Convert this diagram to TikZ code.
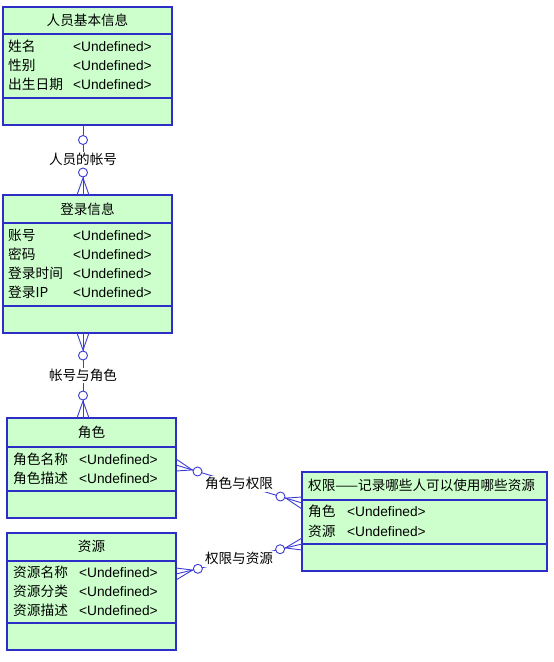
\documentclass[tikz,border=0pt]{standalone}
\usepackage{fontspec}
\setmainfont{Liberation Sans}
\newfontfamily\cjk{Noto Sans CJK SC}
\usetikzlibrary{calc}
\definecolor{efill}{RGB}{204,255,204}
\definecolor{eline}{RGB}{45,45,200}
\definecolor{cline}{RGB}{60,60,210}
\newcommand\erCrow[3]{%
  \draw[conn] ($(#1)+(#3)$) -- ($(#1)!17pt!(#2)$) -- ($(#1)-(#3)$);
  \draw[conn,fill=white] ($(#1)!22.5pt!(#2)$) circle[radius=4.5pt];}
\begin{document}
\begin{tikzpicture}[x=1pt,y=-1pt,
  entity/.style={draw=eline,fill=efill,line width=1.2pt,inner sep=0pt,outer sep=0pt,anchor=north west},
  divider/.style={draw=eline,line width=1.2pt},
  txt/.style={inner sep=0pt,anchor=west,text height=11.5pt,text depth=2pt,font=\fontsize{13.7}{15}\selectfont},
  ttl/.style={inner sep=0pt,text height=11.5pt,text depth=2pt,font=\fontsize{13.6}{15}\selectfont\cjk},
  conn/.style={draw=cline,line width=0.9pt},
  lbl/.style={fill=white,inner sep=1pt,font=\fontsize{13.6}{15}\selectfont\cjk,text height=11.5pt,text depth=2pt}]
\useasboundingbox[fill=white] (0,0) rectangle (554,662);

% ---------- entity 1
\node[entity,minimum width=169pt,minimum height=118pt] (e1) at (3,7) {};
\draw[divider] ($(e1.north west)+(0,27)$) -- ($(e1.north east)+(0,27)$);
\draw[divider] ($(e1.north west)+(0,91)$) -- ($(e1.north east)+(0,91)$);
\node[ttl] (t1) at (87.5,20.5) {人员基本信息};
\node[txt] (n11) at (8,47) {\cjk{姓名}};
\node[txt] (v11) at (73,47) {<Undefined>};
\node[txt] (n12) at (8,66) {\cjk{性别}};
\node[txt] (v12) at (73,66) {<Undefined>};
\node[txt] (n13) at (8,85) {\cjk{出生日期}};
\node[txt] (v13) at (73,85) {<Undefined>};

% ---------- entity 2
\node[entity,minimum width=169pt,minimum height=138pt] (e2) at (3,195) {};
\draw[divider] ($(e2.north west)+(0,28)$) -- ($(e2.north east)+(0,28)$);
\draw[divider] ($(e2.north west)+(0,111)$) -- ($(e2.north east)+(0,111)$);
\node[ttl] (t2) at (87.5,209.5) {登录信息};
\node[txt] (n21) at (8,236) {\cjk{账号}};
\node[txt] (v21) at (73,236) {<Undefined>};
\node[txt] (n22) at (8,255) {\cjk{密码}};
\node[txt] (v22) at (73,255) {<Undefined>};
\node[txt] (n23) at (8,274) {\cjk{登录时间}};
\node[txt] (v23) at (73,274) {<Undefined>};
\node[txt] (n24) at (8,293) {\cjk{登录}IP};
\node[txt] (v24) at (73,293) {<Undefined>};

% ---------- entity 3
\node[entity,minimum width=169pt,minimum height=100pt] (e3) at (7,418) {};
\draw[divider] ($(e3.north west)+(0,29)$) -- ($(e3.north east)+(0,29)$);
\draw[divider] ($(e3.north west)+(0,73)$) -- ($(e3.north east)+(0,73)$);
\node[ttl] (t3) at (91.5,432.5) {角色};
\node[txt] (n31) at (13,460) {\cjk{角色名称}};
\node[txt] (v31) at (79,460) {<Undefined>};
\node[txt] (n32) at (13,479) {\cjk{角色描述}};
\node[txt] (v32) at (79,479) {<Undefined>};

% ---------- entity 4
\node[entity,minimum width=169pt,minimum height=117pt] (e4) at (7,533) {};
\draw[divider] ($(e4.north west)+(0,28)$) -- ($(e4.north east)+(0,28)$);
\draw[divider] ($(e4.north west)+(0,90)$) -- ($(e4.north east)+(0,90)$);
\node[ttl] (t4) at (91.5,547) {资源};
\node[txt] (n41) at (13,573) {\cjk{资源名称}};
\node[txt] (v41) at (79,573) {<Undefined>};
\node[txt] (n42) at (13,592) {\cjk{资源分类}};
\node[txt] (v42) at (79,592) {<Undefined>};
\node[txt] (n43) at (13,611) {\cjk{资源描述}};
\node[txt] (v43) at (79,611) {<Undefined>};

% ---------- entity 5
\node[entity,minimum width=245pt,minimum height=99pt] (e5) at (302,472) {};
\draw[divider] ($(e5.north west)+(0,28)$) -- ($(e5.north east)+(0,28)$);
\draw[divider] ($(e5.north west)+(0,72)$) -- ($(e5.north east)+(0,72)$);
\node[ttl,anchor=west] (t5) at (308,486) {权限——记录哪些人可以使用哪些资源};
\node[txt] (n51) at (308,512) {\cjk{角色}};
\node[txt] (v51) at (347,512) {<Undefined>};
\node[txt] (n52) at (308,532) {\cjk{资源}};
\node[txt] (v52) at (347,532) {<Undefined>};

% ---------- connector 1
\coordinate (c1a) at ([xshift=-4.5pt]e1.south);
\coordinate (c1b) at ([xshift=-4.5pt]e2.north);
\draw[conn] (c1a) -- node[lbl] (l1) {人员的帐号} (c1b);
\draw[conn,fill=white] ($(c1a)!15pt!(c1b)$) circle[radius=4.5pt];
\erCrow{c1b}{c1a}{6,0}

% ---------- connector 2
\coordinate (c2a) at ([xshift=-4.5pt]e2.south);
\coordinate (c2b) at ([xshift=-8.5pt]e3.north);
\draw[conn] (c2a) -- node[lbl] (l2) {帐号与角色} (c2b);
\erCrow{c2a}{c2b}{6,0}
\erCrow{c2b}{c2a}{6,0}

% ---------- connector 3
\coordinate (c3a) at ([yshift=3pt]e3.east);
\coordinate (c3b) at ([yshift=18.5pt]e5.west);
\draw[conn] (c3a) -- node[lbl] (l3) {角色与权限} (c3b);
\erCrow{c3a}{c3b}{0,6}
\erCrow{c3b}{c3a}{0,6}

% ---------- connector 4
\coordinate (c4a) at ([yshift=17.5pt]e4.east);
\coordinate (c4b) at ([yshift=-22.5pt]e5.west);
\draw[conn] (c4a) -- node[lbl] (l4) {权限与资源} (c4b);
\erCrow{c4a}{c4b}{0,6}
\erCrow{c4b}{c4a}{0,6}
\end{tikzpicture}
\end{document}
